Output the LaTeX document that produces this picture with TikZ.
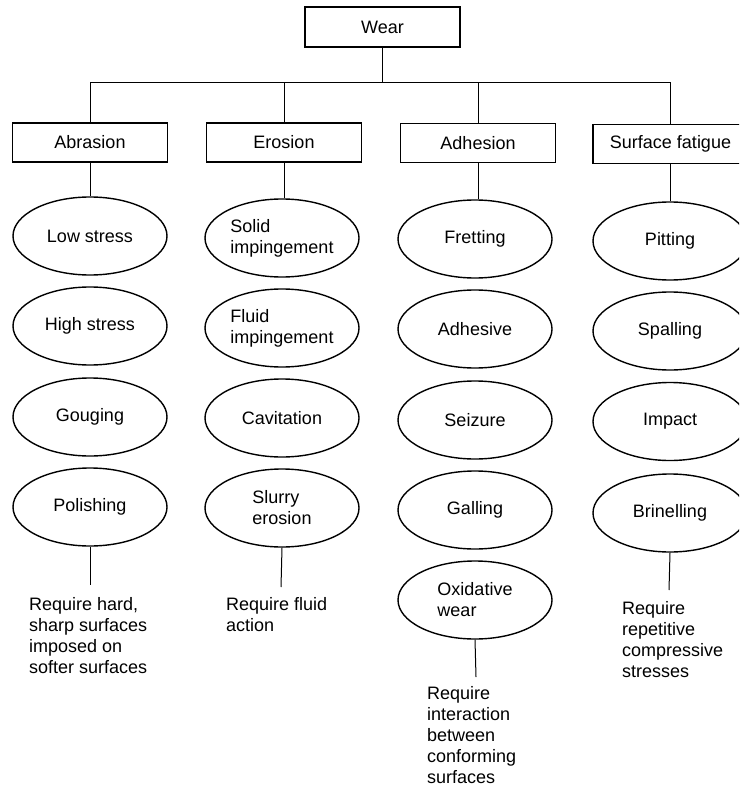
\documentclass[tikz,border=0pt]{standalone}
\usepackage{fontspec}
\setmainfont{Liberation Sans}
\usetikzlibrary{shapes.geometric}
\begin{document}
\begin{tikzpicture}[x=1pt,y=-1pt,
  txt/.style={font=\fontsize{18}{21}\selectfont},
  box/.style={txt, draw, line width=1.4pt, minimum width=155pt, minimum height=39pt, inner sep=0pt},
  oval/.style={txt, draw, ellipse, line width=1.4pt, minimum width=154pt, minimum height=78pt, inner sep=0pt, align=left},
  note/.style={txt, anchor=north west, align=left, inner sep=0pt},
  link/.style={line width=1pt}]
\useasboundingbox (0,0) rectangle (739,786);
\clip (0,0) rectangle (739,786);

% root
\node[box, minimum height=40pt] (wear) at (382.5,27) {Wear};
\coordinate (busL) at (90,83);
\coordinate (busR) at (671,83);
\coordinate (busM) at (382.5,83);

% categories
\node[box] (abr) at (90,142.5) {Abrasion};
\node[box] (ero) at (284,142.5) {Erosion};
\node[box] (adh) at (478,143) {Adhesion};
\node[box] (sfa) at (670.5,144) {Surface fatigue};

% abrasion column
\node[oval] (a1) at (90,236) {Low stress};
\node[oval] (a2) at (90,326) {High stress};
\node[oval] (a3) at (90,417) {Gouging};
\node[oval] (a4) at (90,507) {Polishing};

% erosion column
\node[oval] (e1) at (282,238) {Solid\\impingement};
\node[oval] (e2) at (282,328) {Fluid\\impingement};
\node[oval] (e3) at (282,418) {Cavitation};
\node[oval] (e4) at (282,508) {Slurry\\erosion};

% adhesion column
\node[oval] (d1) at (475,239) {Fretting};
\node[oval] (d2) at (475,329) {Adhesive};
\node[oval] (d3) at (475,420) {Seizure};
\node[oval] (d4) at (475,510) {Galling};
\node[oval] (d5) at (475,600) {Oxidative\\wear};

% surface fatigue column
\node[oval] (s1) at (670,241) {Pitting};
\node[oval] (s2) at (670,331) {Spalling};
\node[oval] (s3) at (670,421.5) {Impact};
\node[oval] (s4) at (670,513) {Brinelling};

% notes
\node[note] (na) at (29,597) {Require hard,\\sharp surfaces\\imposed on\\softer surfaces};
\node[note] (ne) at (226,597) {Require fluid\\action};
\node[note] (nd) at (427,686) {Require\\interaction\\between\\conforming\\surfaces};
\node[note] (ns) at (622,601) {Require\\repetitive\\compressive\\stresses};

\coordinate (ea) at (90,585);
\coordinate (ee) at (281,587);
\coordinate (ed) at (476,677);
\coordinate (es) at (669,590);

% connectors
\draw[link] (wear.south) -- (busM);
\draw[link] (busL) -- (busR);
\draw[link] (busL) -- (abr.north);
\draw[link] (ero.north |- busL) -- (ero.north);
\draw[link] (adh.north |- busL) -- (adh.north);
\draw[link] (sfa.north |- busL) -- (sfa.north);

\draw[link] (abr.south) -- (abr.south |- a1.north);
\draw[link] (ero.south) -- (ero.south |- e1.north);
\draw[link] (adh.south) -- (adh.south |- d1.north);
\draw[link] (sfa.south) -- (sfa.south |- s1.north);

\draw[link] (a4.south) -- (ea);
\draw[link] (e4.south) -- (ee);
\draw[link] (d5.south) -- (ed);
\draw[link] (s4.south) -- (es);
\end{tikzpicture}
\end{document}
